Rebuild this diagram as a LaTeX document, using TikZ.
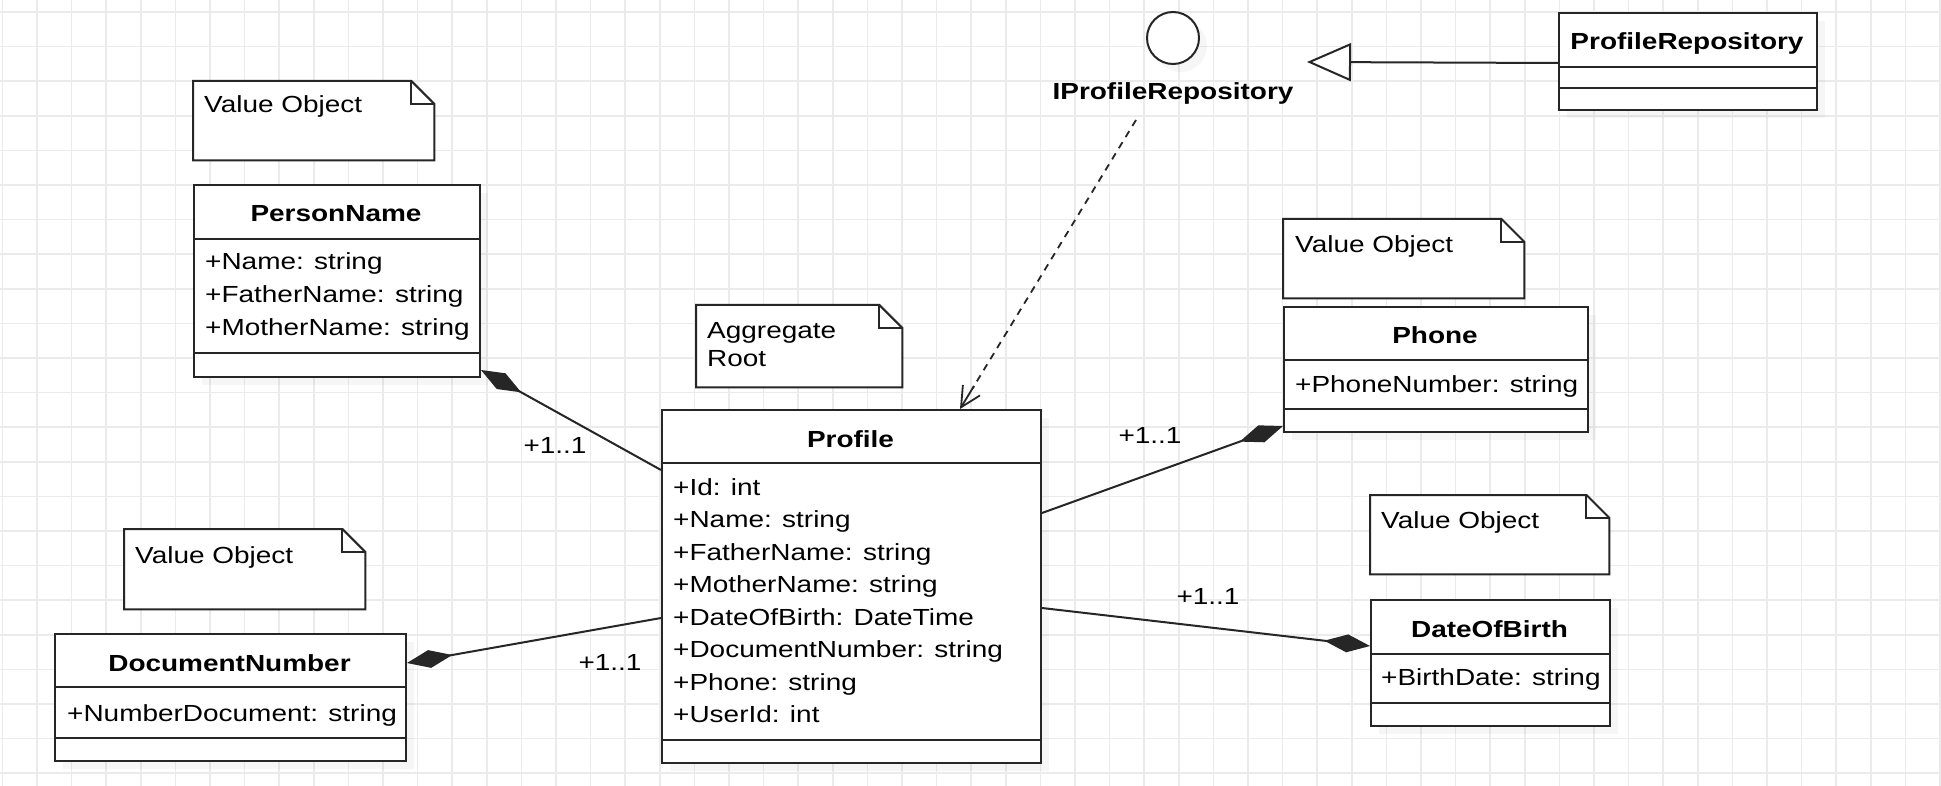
\documentclass[tikz,border=0pt]{standalone}
\usepackage{fontspec}
\setmainfont{Liberation Sans}[FakeStretch=1.2]
\usetikzlibrary{arrows.meta,shadows,calc}
\definecolor{gridc}{HTML}{EBEBEB}
\definecolor{linec}{HTML}{262626}
\begin{document}
\begin{tikzpicture}[x=1pt,y=-1pt,
  gridline/.style={draw=gridc, line width=1.6pt},
  box/.style={draw=linec, line width=2pt, fill=white, inner sep=0pt, anchor=north west,
    drop shadow={shadow xshift=8pt, shadow yshift=-8pt, opacity=0.07}},
  notebox/.style={draw=none, inner sep=0pt, anchor=north west},
  noteline/.style={draw=linec, line width=2pt, fill=white, line join=miter},
  sep/.style={draw=linec, line width=2pt},
  txt/.style={inner sep=0pt, anchor=base west, font=\fontsize{23.3}{28}\selectfont},
  ttl/.style={inner sep=0pt, anchor=base, font=\fontsize{23.3}{28}\selectfont\bfseries},
  conn/.style={draw=linec, line width=2pt},
  comp/.style={conn, -{Diamond[length=46pt, width=18pt]}},
]
\fill[white] (0,0) rectangle (1941,786);
\useasboundingbox (0,0) rectangle (1941,786);
% grid
\foreach \i in {0,...,56} \draw[gridline] ({2.4+34.6*\i},0) -- ({2.4+34.6*\i},786);
\foreach \j in {0,...,22} \draw[gridline] (0,{12+34.6*\j}) -- (1941,{12+34.6*\j});

% ---------- notes ----------
\newcommand{\drawnote}[1]{%
  \draw[noteline] (#1.north west) -- ([xshift=-23pt]#1.north east) -- ([yshift=-23pt]#1.north east)
     -- (#1.south east) -- (#1.south west) -- cycle;
  \draw[noteline, fill=none] ([xshift=-23pt]#1.north east) -- ([xshift=-23pt,yshift=-23pt]#1.north east)
     -- ([yshift=-23pt]#1.north east);}
\node[notebox, minimum width=241pt, minimum height=79pt] (n1) at (193,81) {};
\drawnote{n1}
\node[txt] (n1t) at (204,113) {Value Object};

\node[notebox, minimum width=206pt, minimum height=82pt] (n2) at (696,305) {};
\drawnote{n2}
\node[txt] (n2a) at (707,338) {Aggregate};
\node[txt] (n2b) at (707,366) {Root};

\node[notebox, minimum width=241pt, minimum height=80pt] (n3) at (124,529) {};
\drawnote{n3}
\node[txt] (n3t) at (135,563) {Value Object};

\node[notebox, minimum width=241pt, minimum height=79pt] (n4) at (1283,219) {};
\drawnote{n4}
\node[txt] (n4t) at (1295,253) {Value Object};

\node[notebox, minimum width=239pt, minimum height=79pt] (n5) at (1370,495) {};
\drawnote{n5}
\node[txt] (n5t) at (1381,528) {Value Object};

% ---------- PersonName ----------
\node[box, minimum width=286pt, minimum height=192pt] (pn) at (193,184) {};
\draw[sep] ([yshift=-55pt]pn.north west) -- ([yshift=-55pt]pn.north east);
\draw[sep] ([yshift=-169pt]pn.north west) -- ([yshift=-169pt]pn.north east);
\node[ttl] (pnt) at (336,222) {PersonName};
\node[txt] (pn1) at (205,270) {+Name: string};
\node[txt] (pn2) at (205,302.5) {+FatherName: string};
\node[txt] (pn3) at (205,335) {+MotherName: string};

% ---------- Profile ----------
\node[box, minimum width=379pt, minimum height=353pt] (pf) at (661,409) {};
\draw[sep] ([yshift=-54pt]pf.north west) -- ([yshift=-54pt]pf.north east);
\draw[sep] ([yshift=-331pt]pf.north west) -- ([yshift=-331pt]pf.north east);
\node[ttl] (pft) at (850.5,447) {Profile};
\node[txt] (pf1) at (673,495) {+Id: int};
\node[txt] (pf2) at (673,527.5) {+Name: string};
\node[txt] (pf3) at (673,560) {+FatherName: string};
\node[txt] (pf4) at (673,592.5) {+MotherName: string};
\node[txt] (pf5) at (673,625) {+DateOfBirth: DateTime};
\node[txt] (pf6) at (673,657.5) {+DocumentNumber: string};
\node[txt] (pf7) at (673,690) {+Phone: string};
\node[txt] (pf8) at (673,722.5) {+UserId: int};

% ---------- DocumentNumber ----------
\node[box, minimum width=351pt, minimum height=127pt] (dn) at (54,633) {};
\draw[sep] ([yshift=-54pt]dn.north west) -- ([yshift=-54pt]dn.north east);
\draw[sep] ([yshift=-105pt]dn.north west) -- ([yshift=-105pt]dn.north east);
\node[ttl] (dnt) at (229.5,671) {DocumentNumber};
\node[txt] (dn1) at (67,721) {+NumberDocument: string};

% ---------- Phone ----------
\node[box, minimum width=304pt, minimum height=125pt] (ph) at (1283,306) {};
\draw[sep] ([yshift=-54pt]ph.north west) -- ([yshift=-54pt]ph.north east);
\draw[sep] ([yshift=-103pt]ph.north west) -- ([yshift=-103pt]ph.north east);
\node[ttl] (pht) at (1435,343) {Phone};
\node[txt] (ph1) at (1295,392) {+PhoneNumber: string};

% ---------- DateOfBirth ----------
\node[box, minimum width=239pt, minimum height=126pt] (db) at (1370,599) {};
\draw[sep] ([yshift=-55pt]db.north west) -- ([yshift=-55pt]db.north east);
\draw[sep] ([yshift=-104pt]db.north west) -- ([yshift=-104pt]db.north east);
\node[ttl] (dbt) at (1489.5,637) {DateOfBirth};
\node[txt] (db1) at (1381,685) {+BirthDate: string};

% ---------- ProfileRepository ----------
\node[box, minimum width=258pt, minimum height=97pt] (pr) at (1558,12) {};
\draw[sep] ([yshift=-55pt]pr.north west) -- ([yshift=-55pt]pr.north east);
\draw[sep] ([yshift=-76pt]pr.north west) -- ([yshift=-76pt]pr.north east);
\node[ttl] (prt) at (1687,50) {ProfileRepository};

% ---------- Interface ----------
\node[draw=linec, line width=2pt, circle, minimum size=52pt, inner sep=0pt, fill=white,
  drop shadow={shadow xshift=8pt, shadow yshift=-8pt, opacity=0.07}] (ifc) at (1173,38) {};
\node[ttl] (ifl) at (1173,100) {IProfileRepository};

% ---------- connectors ----------
\coordinate (realend) at (1307,62);
\draw[conn, -{Triangle[open, fill=white, length=44pt, width=38pt]}] ([yshift=-1.5pt]pr.west) -- (realend);

\coordinate (dstart) at (1136,120);
\coordinate (pftop) at (960,409);
\coordinate (dmid) at ($(dstart)!0.93!(pftop)$);
\coordinate (dmid2) at ($(dstart)!0.92!(pftop)$);
\draw[conn, line width=1.8pt, dash pattern=on 7pt off 6pt] (dstart) -- (dmid);
\draw[conn, line width=1.8pt, -{Straight Barb[length=20pt, width=20pt]}] (dmid2) -- (pftop);

\draw[comp] ([yshift=-61pt]pf.north west) -- ([yshift=8pt]pn.south east);
\draw[comp] ([yshift=-209pt]pf.north west) -- ([yshift=-30pt]dn.north east);
\draw[comp] ([yshift=-104pt]pf.north east) -- ([yshift=7pt]ph.south west);
\draw[comp] ([yshift=-199pt]pf.north east) -- ([yshift=-47pt]db.north west);

\node[ttl, font=\fontsize{23.3}{28}\selectfont] (m1) at (555,453) {+1..1};
\node[ttl, font=\fontsize{23.3}{28}\selectfont] (m2) at (610,670) {+1..1};
\node[ttl, font=\fontsize{23.3}{28}\selectfont] (m3) at (1150,443) {+1..1};
\node[ttl, font=\fontsize{23.3}{28}\selectfont] (m4) at (1208,604) {+1..1};
\end{tikzpicture}
\end{document}
